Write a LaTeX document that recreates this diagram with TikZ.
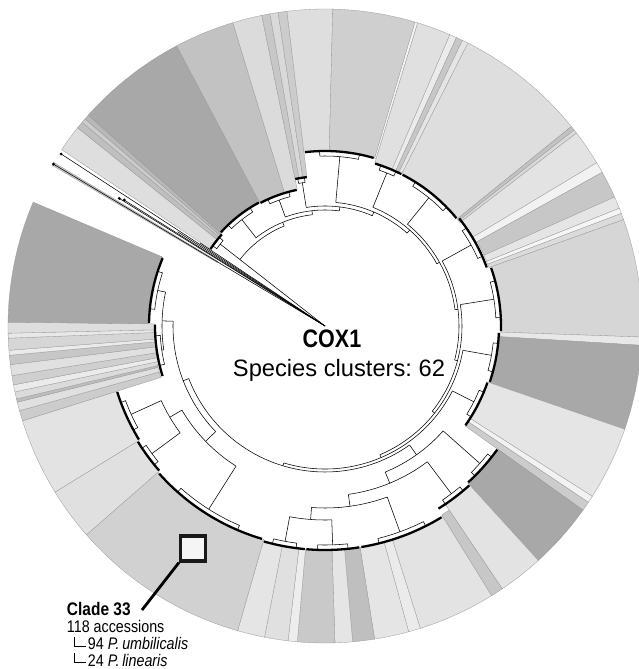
\documentclass[tikz,border=0pt]{standalone}
\usepackage{fontspec}
\setmainfont{Liberation Sans}
\newfontfamily\cnd[FakeStretch=0.85]{Liberation Sans}
\begin{document}
\frenchspacing
\begin{tikzpicture}[x=1pt,y=1pt,
  wedge/.style={draw=black!40,line width=0.3pt},
  br/.style={draw=black,line width=0.55pt},
  tip/.style={draw=black,line width=2.3pt},
  lbl/.style={inner sep=0pt,outer sep=0pt}]
\useasboundingbox (-325,-343) rectangle (314,326);
\def\R{317}
% ---------- cluster wedges ----------
\foreach \hi/\lo/\ri/\g in {
146.2/141.3/138/13, 141.3/140.0/138/25, 140.0/139.2/138/20, 139.2/138.3/138/28,
138.3/117.9/140/34, 117.9/106.9/139/24, 106.9/101.5/139/14,
101.5/100.0/150/22, 100.0/98.5/150/15, 98.5/96.9/150/20,
96.9/88.6/175/13, 88.6/73.5/175/19, 73.5/73.0/175/4, 73.0/66.8/170/12,
66.8/65.5/170/8, 65.5/64.3/170/22, 64.3/63.2/170/10, 63.2/39.0/170/13,
39.0/38.2/170/24, 38.2/37.5/170/15, 37.5/31.0/172/11, 31.0/29.0/172/5,
29.0/24.0/174/22, 24.0/21.8/174/10, 21.8/20.8/174/4, 20.8/19.6/174/14,
19.6/-2.0/176/16, -2.0/-3.5/176/9, -3.5/-19.0/174/34, -19.0/-32.5/172/10,
-32.5/-33.8/172/5, -33.8/-35.5/172/20, -35.5/-47.7/212/34, -47.7/-56.0/215/11,
-56.0/-58.3/222/22, -58.3/-72.5/224/11, -72.5/-74.7/224/8, -74.7/-81.0/224/10,
-81.0/-85.0/224/25, -85.0/-88.2/224/10, -88.2/-95.0/224/21, -95.0/-96.7/224/7,
-96.7/-101.0/224/12, -101.0/-106.0/224/10, -106.0/-138.8/222/18,
-138.8/-148.4/220/12, -148.4/-162.6/218/11,
-162.6/-164.5/172/20, -164.5/-166.1/172/12, -166.1/-166.7/172/26,
-166.7/-168.0/172/14, -168.0/-169.3/171/8, -169.3/-171.0/171/19,
-171.0/-173.0/171/12, -173.0/-174.7/170/22, -174.7/-175.6/170/8,
-175.6/-177.8/170/16, -177.8/-178.7/170/9, -178.7/-180.7/170/13,
-180.7/-203.0/176/34}{
  \filldraw[wedge,fill=black!\g] (\hi:\ri pt) -- (\hi:\R pt)
    arc[start angle=\hi,end angle=\lo,radius=\R pt] -- (\lo:\ri pt)
    arc[start angle=\lo,end angle=\hi,radius=\ri pt] -- cycle;
}
% long outlier strip
\filldraw[wedge,fill=black!22] (149.5:125pt) -- (149.5:\R pt)
  arc[start angle=149.5,end angle=148.9,radius=\R pt] -- (148.9:125pt) -- cycle;
% ---------- tree: internal node arcs ----------
\foreach \r/\p/\q in {
108/142/112.2, 112/128/96.45, 116/110/82.9, 120/99/66.8, 124/85/48.55,
128/68/29.1, 131/51/7.15, 134/29/-14.7, 137/9/-38.45, 140/-10/-66.9,
143/-27/-106.75, 146/-54.6/-158.9, 158/-41.6/-67.6, 170/-53/-82.1,
182/-70/-94.25, 194/-88/-100.5, 152/-136/-181.8, 166/-122.4/-149.55,
180/-143.6/-155.5, 163/-171.6/-192}{
  \draw[br] (\p:\r pt) arc[start angle=\p,end angle=\q,radius=\r pt];
}
% connectors between internal nodes
\foreach \a/\ra/\rb in {
112.2/108/112, 96.45/112/116, 82.9/116/120, 66.8/120/124, 48.55/124/128,
29.1/128/131, 7.15/131/134, -14.7/134/137, -38.45/137/140, -66.9/140/143,
-106.75/143/146, -54.6/146/158, -158.9/146/152, -67.6/158/170, -82.1/170/182,
-94.25/182/194, -136/152/166, -181.8/152/163, -149.55/166/180}{
  \draw[br] (\a:\ra pt) -- (\a:\rb pt);
}
% clades: stem, small bracket and dense tips
\foreach \a/\hi/\lo/\ri/\rk in {
142/146.2/138.3/138/108, 128/138.3/117.9/140/112, 110/117.9/101.5/139/116,
99/101.5/96.9/150/120, 85/96.9/73.5/175/124, 68/73.0/63.2/170/128,
51/63.2/39/170/131, 29/39/19.6/172/134, 9/19.6/-2/176/137,
-10/-2/-19/174/140, -27/-19/-35.5/172/143, -41.6/-35.5/-47.7/212/158,
-53/-47.7/-58.3/215/170, -70/-58.3/-81/224/182, -88/-81/-95/224/194,
-100.5/-95/-106/224/194, -122.4/-106/-138.8/222/166, -143.6/-138.8/-148.4/220/180,
-155.5/-148.4/-162.6/218/180, -171.6/-162.6/-180.7/170/163, -192/-180.7/-203/176/163}{
  \pgfmathsetmacro\w{\hi-\lo}
  \pgfmathsetmacro\pa{\hi-0.22*\w}
  \pgfmathsetmacro\pb{\lo+0.22*\w}
  \pgfmathsetmacro\ta{\hi-0.015*\w}
  \pgfmathsetmacro\tb{\lo+0.015*\w}
  \pgfmathsetmacro\rs{\ri-5}
  \draw[br] (\a:\rk pt) -- (\a:\rs pt);
  \draw[br] (\pa:\ri pt) -- (\pa:\rs pt) arc[start angle=\pa,end angle=\pb,radius=\rs pt] -- (\pb:\ri pt);
  \draw[tip] (\ta:\ri pt) arc[start angle=\ta,end angle=\tb,radius=\ri pt];
}
% root stem and long outlier branches
\draw[br] (0,0) -- (142:108pt);
\draw[br] (0,0) -- (146.9:315pt);
\draw[br] (0,0) -- (149.2:316pt);
\draw[br] (0,0) -- (148.2:242pt);
\draw[br] (0,0) -- (147.9:237pt);
\draw[br] (0,0) -- (147.4:175pt);
\draw[br] (0,0) -- (146.4:150pt);
\fill (146.9:315pt) circle (1.6pt);
\fill (149.2:316pt) circle (1.6pt);
\fill (148.2:242pt) circle (1.6pt);
\fill (147.9:237pt) circle (1.6pt);
% ---------- labels ----------
\node[lbl,anchor=base,font=\cnd\bfseries\fontsize{25.3}{30}\selectfont] (gene) at (7,-22) {COX1};
\node[lbl,anchor=base,font=\fontsize{23.7}{28}\selectfont] (clusters) at (14,-51) {Species clusters: 62};
\node[draw=black!90,line width=3.2pt,fill=black!4,minimum size=25pt,inner sep=0pt] (sq) at (-132,-222.5) {};
\coordinate (ld) at (-183,-284);
\draw[line width=2.8pt] (sq.south west) -- (ld);
\node[lbl,anchor=base west,font=\cnd\bfseries\fontsize{18.2}{20}\selectfont] (clade) at (-258,-289) {Clade 33};
\node[lbl,anchor=base west,font=\cnd\fontsize{16.8}{19}\selectfont] (acc) at (-258,-306) {118 accessions};
\node[lbl,anchor=base west,font=\cnd\fontsize{16.8}{19}\selectfont] (sp1) at (-237,-323) {94 \textit{P.\,umbilicalis}};
\node[lbl,anchor=base west,font=\cnd\fontsize{16.8}{19}\selectfont] (sp2) at (-237,-340) {24 \textit{P.\,linearis}};
\draw[line width=0.6pt] ([xshift=7pt,yshift=-5pt]acc.base west) |- ([xshift=-2pt,yshift=3pt]sp1.base west);
\draw[line width=0.6pt] ([xshift=-14pt,yshift=-4pt]sp1.base west) |- ([xshift=-2pt,yshift=4pt]sp2.base west);
\end{tikzpicture}
\end{document}
